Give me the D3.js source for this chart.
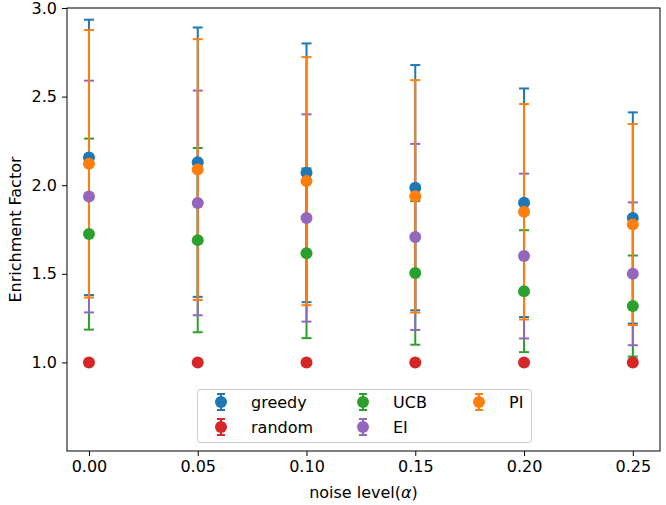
<!DOCTYPE html>
<html>
<head>
<meta charset="utf-8">
<script src="https://cdn.jsdelivr.net/npm/d3@7"></script>
<style>
  html, body { margin: 0; padding: 0; background: #fff; }
  svg { display: block; font-family: "DejaVu Sans", sans-serif; }
</style>
</head>
<body>
<svg id="chart" width="666" height="505"></svg>
<script>
// ---- data ----
const noiseLevels = [0.00, 0.05, 0.10, 0.15, 0.20, 0.25];
const xTickLabels = ["0.00", "0.05", "0.10", "0.15", "0.20", "0.25"];
const yTickValues = [1.0, 1.5, 2.0, 2.5, 3.0];

const greedyMean = [2.157, 2.130, 2.070, 1.986, 1.901, 1.815];
const greedyStd  = [0.777, 0.760, 0.730, 0.692, 0.645, 0.596];
const randomMean = [1.0, 1.0, 1.0, 1.0, 1.0, 1.0];
const randomStd  = [0.0, 0.0, 0.0, 0.0, 0.0, 0.0];
const ucbMean    = [1.724, 1.690, 1.616, 1.505, 1.402, 1.318];
const ucbStd     = [0.539, 0.520, 0.479, 0.405, 0.344, 0.285];
const eiMean     = [1.936, 1.900, 1.815, 1.708, 1.600, 1.500];
const eiStd      = [0.654, 0.634, 0.585, 0.525, 0.465, 0.403];
const piMean     = [2.121, 2.088, 2.023, 1.937, 1.850, 1.778];
const piStd      = [0.755, 0.736, 0.700, 0.656, 0.608, 0.567];

const seriesNames = ["greedy", "random", "UCB", "EI", "PI"];
const seriesColors = ["#1f77b4", "#d62728", "#2ca02c", "#9467bd", "#ff7f0e"];
const seriesMeans = [greedyMean, randomMean, ucbMean, eiMean, piMean];
const seriesStds = [greedyStd, randomStd, ucbStd, eiStd, piStd];

const series = seriesNames.map((name, i) => ({
  name, color: seriesColors[i],
  points: noiseLevels.map((x, j) => ({ x, m: seriesMeans[i][j], s: seriesStds[i][j] }))
}));

// ---- layout ----
const svg = d3.select("#chart");
const plot = { left: 67, right: 660, top: 8, bottom: 451 };
const x = d3.scaleLinear().domain([-0.0101, 0.2625]).range([plot.left, plot.right]);
const y = d3.scaleLinear().domain([0.5, 3.0]).range([plot.bottom, plot.top]);
const fontSize = 16;
const capHalf = 5;
const dotR = 6;

// ---- error bars (all below markers) ----
const barsG = svg.append("g");
series.forEach(s => {
  const g = barsG.append("g").attr("stroke", s.color).attr("stroke-width", 2).attr("fill", "none");
  s.points.forEach(p => {
    if (p.s <= 0) return;
    g.append("line")
      .attr("x1", x(p.x)).attr("x2", x(p.x))
      .attr("y1", y(p.m - p.s)).attr("y2", y(p.m + p.s));
  });
  s.points.forEach(p => {
    [p.m - p.s, p.m + p.s].forEach(v => {
      g.append("line")
        .attr("x1", x(p.x) - capHalf).attr("x2", x(p.x) + capHalf)
        .attr("y1", y(v)).attr("y2", y(v));
    });
  });
});

// ---- markers ----
const dotsG = svg.append("g");
series.forEach(s => {
  dotsG.append("g").selectAll("circle").data(s.points).join("circle")
    .attr("cx", d => x(d.x)).attr("cy", d => y(d.m)).attr("r", dotR)
    .attr("fill", s.color);
});

// ---- axes ----
const xAxis = d3.axisBottom(x).tickValues(noiseLevels)
  .tickFormat((d, i) => xTickLabels[i]).tickSize(5).tickPadding(5);
const yAxis = d3.axisLeft(y).tickValues(yTickValues)
  .tickFormat(d3.format(".1f")).tickSize(5).tickPadding(5);

const gx = svg.append("g").attr("transform", `translate(0,${plot.bottom})`).call(xAxis);
const gy = svg.append("g").attr("transform", `translate(${plot.left},0)`).call(yAxis);
[gx, gy].forEach(g => {
  g.select(".domain").remove();
  g.selectAll(".tick line").attr("stroke", "#000").attr("stroke-width", 1);
  g.selectAll(".tick text").attr("fill", "#000").attr("font-size", fontSize)
    .attr("font-family", "DejaVu Sans, sans-serif");
});

// frame
svg.append("rect")
  .attr("x", plot.left).attr("y", plot.top)
  .attr("width", plot.right - plot.left).attr("height", plot.bottom - plot.top)
  .attr("fill", "none").attr("stroke", "#000").attr("stroke-width", 1);

// axis labels
const xl = svg.append("text")
  .attr("x", (plot.left + plot.right) / 2).attr("y", 498)
  .attr("text-anchor", "middle").attr("font-size", fontSize).attr("fill", "#000");
xl.append("tspan").text("noise level(");
xl.append("tspan").attr("font-style", "italic").text("α");
xl.append("tspan").text(")");

svg.append("text")
  .attr("transform", `translate(21,${(plot.top + plot.bottom) / 2}) rotate(-90)`)
  .attr("text-anchor", "middle").attr("font-size", fontSize).attr("fill", "#000")
  .text("Enrichment Factor");

// ---- legend ----
const leg = svg.append("g");
leg.append("rect")
  .attr("x", 197.5).attr("y", 389.5).attr("width", 334).attr("height", 53)
  .attr("rx", 3).attr("fill", "#fff").attr("fill-opacity", 0.8)
  .attr("stroke", "#cccccc").attr("stroke-width", 1);

const colX = [221, 363, 479];
const rowY = [402, 427];
series.forEach((s, i) => {
  const col = Math.floor(i / 2), row = i % 2;
  const cx = colX[col], cy = rowY[row];
  const g = leg.append("g").attr("stroke", s.color).attr("stroke-width", 2);
  g.append("line").attr("x1", cx).attr("x2", cx).attr("y1", cy - 8).attr("y2", cy + 8);
  g.append("line").attr("x1", cx - 4).attr("x2", cx + 4).attr("y1", cy - 8).attr("y2", cy - 8);
  g.append("line").attr("x1", cx - 4).attr("x2", cx + 4).attr("y1", cy + 8).attr("y2", cy + 8);
  leg.append("circle").attr("cx", cx).attr("cy", cy).attr("r", dotR).attr("fill", s.color);
  leg.append("text").attr("x", cx + 30).attr("y", cy + 6)
    .attr("font-size", fontSize).attr("fill", "#000").text(s.name);
});
</script>
</body>
</html>
